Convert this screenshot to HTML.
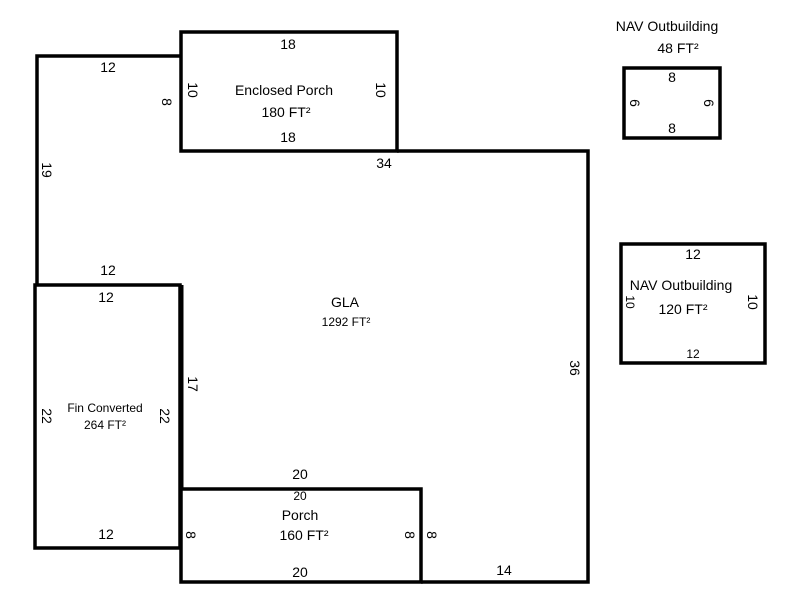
<!DOCTYPE html>
<html><head><meta charset="utf-8"><style>
html,body{margin:0;padding:0;background:#fff;}
svg{display:block}
text{font-family:"Liberation Sans",Arial,sans-serif;font-size:14px;fill:#000;text-anchor:middle;dominant-baseline:central}
.s{font-size:12px}
</style></head><body>
<svg width="800" height="600" viewBox="0 0 800 600" xmlns="http://www.w3.org/2000/svg">
<g fill="none" stroke="#000" stroke-width="3.5" stroke-linejoin="miter">
<polyline points="181,56 37,56 37,285"/>
<rect x="181" y="32" width="216" height="119"/>
<polyline points="397,151 588,151 588,582 421,582"/>
<rect x="35" y="285" width="145" height="263"/>
<line x1="181" y1="285" x2="181" y2="489" stroke-width="5"/>
<rect x="181" y="489" width="240" height="93"/>
<rect x="624" y="68" width="96" height="70"/>
<rect x="621" y="244" width="144" height="119"/>
</g>
<text x="288" y="44">18</text>
<text x="108" y="67">12</text>
<text x="284" y="90">Enclosed Porch</text>
<text x="286" y="112">180 FT²</text>
<text x="288" y="137">18</text>
<text x="384" y="163">34</text>
<text transform="translate(193,90) rotate(90)">10</text>
<text transform="translate(381,90) rotate(90)">10</text>
<text transform="translate(167,102) rotate(90)">8</text>
<text transform="translate(47,170) rotate(90)">19</text>
<text x="108" y="270">12</text>
<text x="106" y="297">12</text>
<text x="345" y="302">GLA</text>
<text class="s" x="346" y="322">1292 FT²</text>
<text transform="translate(193,384) rotate(90)">17</text>
<text transform="translate(575,368) rotate(90)">36</text>
<text class="s" x="105" y="408">Fin Converted</text>
<text class="s" x="105" y="425">264 FT²</text>
<text transform="translate(47,416) rotate(90)">22</text>
<text transform="translate(165,416) rotate(90)">22</text>
<text x="300" y="474">20</text>
<text class="s" x="300" y="496">20</text>
<text x="300" y="515">Porch</text>
<text x="304" y="535">160 FT²</text>
<text x="106" y="534">12</text>
<text transform="translate(191,535) rotate(90)">8</text>
<text transform="translate(410,535) rotate(90)">8</text>
<text transform="translate(432,535) rotate(90)">8</text>
<text x="300" y="572">20</text>
<text x="504" y="570">14</text>
<text x="667" y="26">NAV Outbuilding</text>
<text x="678" y="48">48 FT²</text>
<text x="672" y="77">8</text>
<text x="672" y="128">8</text>
<text transform="translate(635,103) rotate(90)">6</text>
<text transform="translate(709,103) rotate(90)">6</text>
<text x="693" y="254">12</text>
<text x="681" y="285">NAV Outbuilding</text>
<text x="683" y="309">120 FT²</text>
<text class="s" x="693" y="354">12</text>
<text class="s" transform="translate(630,302) rotate(90)">10</text>
<text transform="translate(753,302) rotate(90)">10</text>
</svg>
</body></html>
